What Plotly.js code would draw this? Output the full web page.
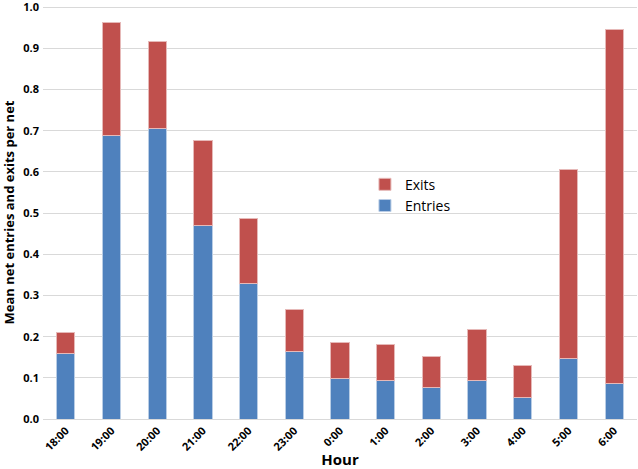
<!DOCTYPE html>
<html>
<head>
<meta charset="utf-8">
<script src="https://cdn.plot.ly/plotly-3.0.1.min.js"></script>
<style>html,body{margin:0;padding:0;background:#fff;}#chart{width:638px;height:469px;}</style>
</head>
<body>
<div id="chart"></div>
<script>
const hours = ["18:00","19:00","20:00","21:00","22:00","23:00","0:00","1:00","2:00","3:00","4:00","5:00","6:00"];
const entries = [0.158,0.688,0.705,0.470,0.330,0.163,0.099,0.093,0.076,0.093,0.052,0.146,0.087];
const exits   = [0.053,0.276,0.212,0.206,0.158,0.102,0.088,0.088,0.076,0.124,0.077,0.459,0.860];
const yTicks = [0,0.1,0.2,0.3,0.4,0.5,0.6,0.7,0.8,0.9,1.0];
const yTickText = ["0.0","0.1","0.2","0.3","0.4","0.5","0.6","0.7","0.8","0.9","1.0"];

const font = "'Open Sans', 'DejaVu Sans', sans-serif";
const data = [
  {type:"bar", name:"Entries", x:hours, y:entries,
   marker:{color:"#4F81BD", line:{color:"#B9CDE5", width:1}}},
  {type:"bar", name:"Exits", x:hours, y:exits,
   marker:{color:"#C0504D", line:{color:"#E6B9B8", width:1}}}
];
const layout = {
  width:638, height:469,
  barmode:"stack", bargap:0.6,
  margin:{l:43, r:1, t:6, b:50},
  paper_bgcolor:"#fff", plot_bgcolor:"#fff",
  font:{family:font, color:"#000"},
  showlegend:true,
  legend:{x:0.542, y:0.606, xanchor:"left", yanchor:"top", traceorder:"reversed",
          font:{size:14, family:font, color:"#000"}, bgcolor:"rgba(0,0,0,0)", itemwidth:30, tracegroupgap:0},
  xaxis:{type:"category", tickangle:-45, tickfont:{size:11, family:font, weight:"bold"},
         showgrid:false, showline:true, linecolor:"#D9D9D9", linewidth:1, ticks:"",
         title:{text:"<b>Hour</b>", font:{size:15, family:font}, standoff:4}},
  yaxis:{range:[0,1.003], tickvals:yTicks, ticktext:yTickText, tickfont:{size:11, family:font, weight:"bold"},
         showgrid:true, gridcolor:"#D9D9D9", gridwidth:1, zeroline:false, ticks:"", showline:false,
         ticklabelstandoff:3, ticklabeloverflow:"allow",
         title:{text:"<b>Mean net entries and exits per net</b>", font:{size:13, family:font}, standoff:6}}
};
Plotly.newPlot("chart", data, layout, {displayModeBar:false, staticPlot:true});
</script>
</body>
</html>
